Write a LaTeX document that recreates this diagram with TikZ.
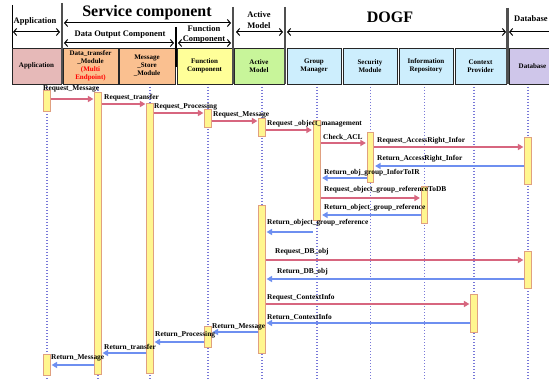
\documentclass[tikz,border=0pt]{standalone}
\usepackage{fontspec}
\setmainfont{Liberation Serif}
\usetikzlibrary{arrows.meta}
\definecolor{appc}{HTML}{E6B9B8}
\definecolor{orc}{HTML}{FAC090}
\definecolor{fcc}{HTML}{FFFF99}
\definecolor{amc}{HTML}{C8F59A}
\definecolor{dgc}{HTML}{CDEEFD}
\definecolor{dbc}{HTML}{CFC6EA}
\definecolor{reqc}{HTML}{D7667F}
\definecolor{retc}{HTML}{6E8FF0}
\definecolor{lifec}{HTML}{7878D8}
\definecolor{barbd}{HTML}{E0A080}
\definecolor{barc}{HTML}{FFF68F}
\definecolor{sepc}{HTML}{505050}
\begin{document}
\begin{tikzpicture}[x=1pt,y=-1pt,
  hbox/.style={draw=black!85, line width=0.8pt, minimum height=36pt, inner sep=1pt, align=center,
    font=\bfseries\fontsize{7}{8}\selectfont},
  ttl/.style={font=\bfseries\fontsize{8.5}{10}\selectfont, inner sep=0pt, align=center},
  bigttl/.style={font=\bfseries\fontsize{16}{18}\selectfont, inner sep=0pt},
  hdr/.style={line width=1pt, >={Straight Barb[length=3pt,width=7pt]}, <->},
  sep/.style={draw=sepc, line width=2.4pt},
  life/.style={draw=lifec, line width=1.1pt, dash pattern=on 1pt off 2pt},
  actbar/.style={draw=barbd, fill=barc, line width=0.7pt, minimum width=6.5pt, inner sep=0pt},
  req/.style={draw=reqc, line width=2pt, >={Triangle[length=5.5pt,width=6pt]}, ->, shorten >=1pt},
  ret/.style={draw=retc, line width=2pt, >={Triangle[length=5.5pt,width=6pt]}, ->, shorten >=1pt},
  msg/.style={font=\bfseries\fontsize{7.4}{8}\selectfont, inner sep=0pt, anchor=west}]
\useasboundingbox (0,0) rectangle (549,382);
\clip (0,0) rectangle (549,382);
\fill[white] (0,0) rectangle (549,382);

% ---------- header titles ----------
\node[ttl] (tApp) at (35,21) {Application};
\node[bigttl] (tSvc) at (147,13) {Service component};
\node[ttl] (tDOC) at (120,35) {Data Output Component};
\node[ttl] (tFC1) at (204,29) {Function};
\node[ttl] (tFC2) at (204,40) {Component};
\node[ttl] (tAM1) at (259,15) {Active};
\node[ttl] (tAM2) at (259,26) {Model};
\node[bigttl] (tDOGF) at (390,17) {DOGF};
\node[ttl] (tDB) at (531,19) {Database};

% header span arrows
\coordinate (hA1) at (13,32); \coordinate (hA2) at (60,32);
\coordinate (hS1) at (64,23); \coordinate (hS2) at (231,23);
\coordinate (hD1) at (64,43); \coordinate (hD2) at (174,43);
\coordinate (hF1) at (178,43); \coordinate (hF2) at (231,43);
\coordinate (hM1) at (236,32); \coordinate (hM2) at (283,32);
\coordinate (hG1) at (287,32); \coordinate (hG2) at (506,32);
\coordinate (hB1) at (509,32); \coordinate (hB2) at (556,32);
\draw[hdr] (hA1) -- (hA2);
\draw[hdr] (hS1) -- (hS2);
\draw[hdr] (hD1) -- (hD2);
\draw[hdr] (hF1) -- (hF2);
\draw[hdr] (hM1) -- (hM2);
\draw[hdr] (hG1) -- (hG2);
\draw[hdr] (hB1) -- (hB2);

% ---------- header boxes ----------
\node[hbox, fill=appc, minimum width=49pt] (bxApp) at (36.5,66) {Application};
\node[hbox, fill=orc, minimum width=55pt] (bxDT) at (90.5,66) {Data\_transfer\\\_Module\\{\color{red}(Multi}\\{\color{red}Endpoint)}};
\node[hbox, fill=orc, minimum width=56pt] (bxMS) at (147,66) {Message\\\_Store\\\_Module};
\node[hbox, fill=fcc, minimum width=55pt] (bxFC) at (204.5,66) {Function\\Component};
\node[hbox, fill=amc, minimum width=50pt] (bxAM) at (259,66) {Active\\Model};
\node[hbox, fill=dgc, minimum width=54pt] (bxGM) at (314,66) {Group\\Manager};
\node[hbox, fill=dgc, minimum width=54pt] (bxSM) at (370,66) {Security\\Module};
\node[hbox, fill=dgc, minimum width=54pt] (bxIR) at (426,66) {Information\\Repository};
\node[hbox, fill=dgc, minimum width=51pt] (bxCP) at (480.5,66) {Context\\Provider};
\node[hbox, fill=dbc, minimum width=47pt] (bxDB) at (532.5,66) {Database};

% separators
\coordinate (s0a) at (12,5);  \coordinate (s0b) at (12,48);
\coordinate (s1a) at (62,3);  \coordinate (s1b) at (62,84);
\coordinate (s2a) at (176,27); \coordinate (s2b) at (176,67);
\coordinate (s3a) at (233,7); \coordinate (s3b) at (233,84);
\coordinate (s4a) at (285,7); \coordinate (s4b) at (285,84);
\coordinate (s5a) at (507.5,8); \coordinate (s5b) at (507.5,84);
\draw[black, line width=0.8pt] (s0a) -- (s0b);
\draw[sep] (s1a) -- (s1b);
\draw[black, line width=2pt] (s2a) -- (s2b);
\draw[sep] (s3a) -- (s3b);
\draw[sep] (s4a) -- (s4b);
\draw[sep] (s5a) -- (s5b);

% ---------- lifelines ----------
\foreach \n/\x in {A/47, DT/98, MS/150, F/208, M/262, G/317, S/370.5, I/424.5, C/474, D/528}{
  \coordinate (lt\n) at (\x,87);
  \coordinate (lb\n) at (\x,380);
  \draw[life] (lt\n) -- (lb\n);
}

% ---------- activation bars ----------
\node[actbar, minimum height=21pt] (bA1) at (47,100.5) {};
\node[actbar, minimum height=21pt] (bA2) at (47,364.5) {};
\node[actbar, minimum height=282pt] (bDT) at (98,233) {};
\node[actbar, minimum height=270pt] (bMS) at (150,238) {};
\node[actbar, minimum height=18pt] (bF1) at (208,118) {};
\node[actbar, minimum height=21pt] (bF2) at (208,336.5) {};
\node[actbar, minimum height=18pt] (bM1) at (262,127) {};
\node[actbar, minimum height=148pt] (bM2) at (262,279) {};
\node[actbar, minimum height=100pt, minimum width=7.5pt] (bG) at (317,170) {};
\node[actbar, minimum height=50pt] (bS) at (370.5,157) {};
\node[actbar, minimum height=37pt] (bI) at (424.5,204.5) {};
\node[actbar, minimum height=47pt] (bD1) at (528,160.5) {};
\node[actbar, minimum height=37pt] (bD2) at (528,269.5) {};
\node[actbar, minimum height=38pt] (bC) at (474,313) {};

% ---------- messages ----------
\draw[req] (bA1.east |- 0,99) -- (bDT.west |- 0,99);
\draw[req] (bDT.east |- 0,104) -- (bMS.west |- 0,104);
\draw[req] (bMS.east |- 0,113) -- (bF1.west |- 0,113);
\draw[req] (bF1.east |- 0,121) -- (bM1.west |- 0,121);
\draw[req] (bM1.east |- 0,130) -- (bG.west |- 0,130);
\draw[req] (bG.east |- 0,143) -- (bS.west |- 0,143);
\draw[req] (bS.east |- 0,147) -- (bD1.west |- 0,147);
\draw[ret] (bD1.west |- 0,166) -- (bS.east |- 0,166);
\draw[ret] (bS.west |- 0,178) -- (bG.east |- 0,178);
\draw[req] (bG.east |- 0,198) -- (bI.west |- 0,198);
\draw[ret] (bI.west |- 0,215) -- (bG.east |- 0,215);
\draw[ret] (bG.west |- 0,232) -- (bM2.east |- 0,232);
\draw[req] (bM2.east |- 0,260) -- (bD2.west |- 0,260);
\draw[ret] (bD2.west |- 0,279) -- (bM2.east |- 0,279);
\draw[req] (bM2.east |- 0,304) -- (bC.west |- 0,304);
\draw[ret] (bC.west |- 0,323) -- (bM2.east |- 0,323);
\draw[ret] (bM2.west |- 0,332) -- (bF2.east |- 0,332);
\draw[ret] (bF2.west |- 0,342) -- (bMS.east |- 0,342);
\draw[ret] (bMS.west |- 0,353) -- (bDT.east |- 0,353);
\draw[ret] (bDT.west |- 0,365) -- (bA2.east |- 0,365);

% ---------- message labels ----------
\node[msg] (m1) at (43,89) {Request\_Message};
\node[msg] (m2) at (104,98) {Request\_transfer};
\node[msg] (m3) at (154,107) {Request\_Processing};
\node[msg] (m4) at (213,115) {Request\_Message};
\node[msg] (m5) at (267,124) {Request \_object\_management};
\node[msg] (m6) at (323,137) {Check\_ACL};
\node[msg] (m7) at (377,141) {Request\_AccessRight\_Infor};
\node[msg] (m8) at (377,159) {Return\_AccessRight\_Infor};
\node[msg] (m9) at (324,173) {Return\_obj\_group\_InforToIR};
\node[msg] (m10) at (324,190) {Request\_object\_group\_referenceToDB};
\node[msg] (m11) at (324,208) {Return\_object\_group\_reference};
\node[msg] (m12) at (267,223) {Return\_object\_group\_reference};
\node[msg] (m13) at (275,252) {Request\_DB\_obj};
\node[msg] (m14) at (277,272) {Return\_DB\_obj};
\node[msg] (m15) at (267,298) {Request\_ContextInfo};
\node[msg] (m16) at (267,317) {Return\_ContextInfo};
\node[msg] (m17) at (212,327) {Return\_Message};
\node[msg] (m18) at (155,335) {Return\_Processing};
\node[msg] (m19) at (104,347) {Return\_transfer};
\node[msg] (m20) at (51,358) {Return\_Message};
\end{tikzpicture}
\end{document}
